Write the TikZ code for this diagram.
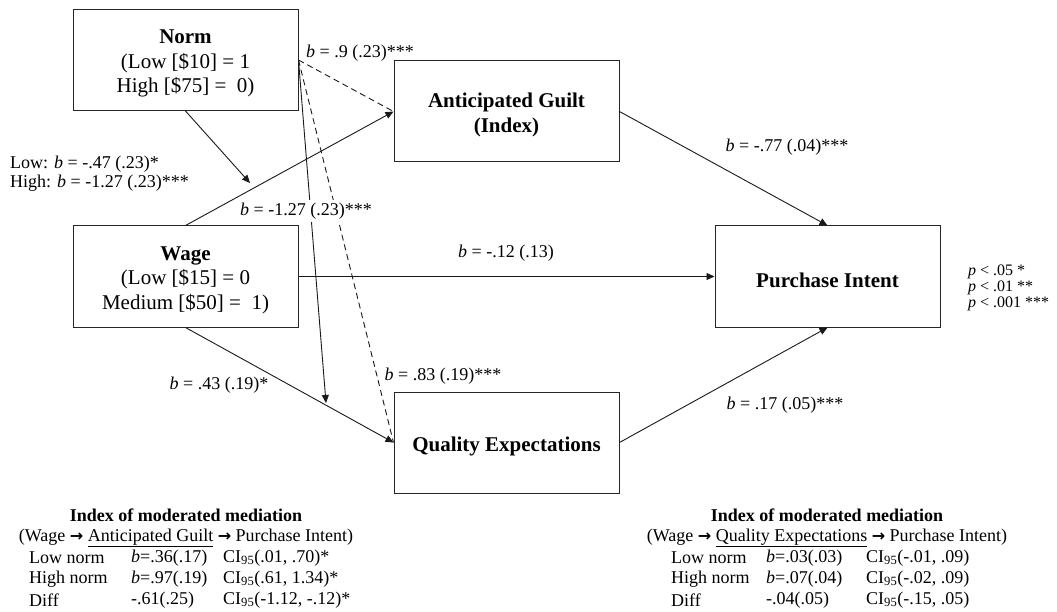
\documentclass[tikz,border=0pt]{standalone}
\usepackage{fontspec}
\setmainfont{Liberation Serif}
\newfontfamily\symfont{DejaVu Sans}
\usetikzlibrary{arrows.meta}
\newcommand{\rarr}{{\symfont\bfseries\fontsize{16}{16}\selectfont →}}
\tikzset{
  box/.style={draw=black!85, line width=1pt, minimum width=225pt, minimum height=101pt,
    inner sep=0pt},
  boxtext/.style={inner sep=0pt, align=center, font=\fontsize{21}{24.5}\selectfont, yshift=-3.5pt},
  conn/.style={line width=0.9pt, draw=black!90},
  arr/.style={conn, -{Triangle[length=8pt,width=7pt]}},
  dashedconn/.style={conn, dash pattern=on 6pt off 4pt},
  lbl/.style={font=\fontsize{18}{20}\selectfont, inner sep=1pt},
  tblw/.style={font=\fontsize{18}{21}\selectfont, anchor=west, inner sep=0pt},
  tblc/.style={font=\fontsize{18}{21}\selectfont, inner sep=0pt},
  leg/.style={font=\fontsize{16}{16}\selectfont, anchor=west, inner sep=0pt},
}
\begin{document}
\begin{tikzpicture}[x=1pt,y=-1pt]
\useasboundingbox (0,0) rectangle (1057,612);
% boxes
\node[box] (norm) at (185.5,60) {};
\node[box] (ag) at (506.5,111.5) {};
\node[box] (wage) at (185.5,276.5) {};
\node[box] (qe) at (506.5,442.5) {};
\node[box] (pi) at (827.5,276.5) {};
\node[boxtext] (normt) at (norm.center) {\textbf{Norm}\\(Low [\$10] = 1\\High [\$75] = \ 0)};
\node[boxtext] (agt) at (ag.center) {\textbf{Anticipated Guilt}\\\textbf{(Index)}};
\node[boxtext] (waget) at (wage.center) {\textbf{Wage}\\(Low [\$15] = 0\\Medium [\$50] = \ 1)};
\node[boxtext] (qet) at (qe.center) {\textbf{Quality Expectations}};
\node[boxtext] (pit) at (pi.center) {\textbf{Purchase Intent}};
\coordinate (m1) at (250,183);
\coordinate (m2) at (326,403);
% connectors
\draw[arr] (wage.north) -- (ag.west);
\draw[arr] (wage.south) -- (qe.west);
\draw[arr] (wage.east) -- (pi.west);
\draw[arr] (ag.east) -- (pi.north);
\draw[arr] (qe.east) -- (pi.south);
\draw[arr] (norm.south) -- (m1);
\draw[arr] (norm.east) -- (m2);
\draw[dashedconn] (norm.east) -- (ag.west);
\draw[dashedconn] (norm.east) -- (qe.west);
% path labels
\node[lbl] (l1) at (360,53) {\textit{b} = .9 (.23)***};
\node[lbl, anchor=west] (l2) at (9,164) {Low: \textit{b} = -.47 (.23)*};
\node[lbl, anchor=west] (l3) at (9,183) {High: \textit{b} = -1.27 (.23)***};
\node[lbl, fill=white, inner sep=3pt] (l4) at (306,211) {\textit{b} = -1.27 (.23)***};
\node[lbl] (l5) at (506,253) {\textit{b} = -.12 (.13)};
\node[lbl] (l6) at (787,147) {\textit{b} = -.77 (.04)***};
\node[lbl] (l7) at (219,385) {\textit{b} = .43 (.19)*};
\node[lbl] (l8) at (443,376) {\textit{b} = .83 (.19)***};
\node[lbl] (l9) at (785,405) {\textit{b} = .17 (.05)***};
% legend
\node[leg] (p1) at (968,272) {\textit{p} < .05 *};
\node[leg] (p2) at (968,288) {\textit{p} < .01 **};
\node[leg] (p3) at (968,304) {\textit{p} < .001 ***};
% bottom left
\node[tblc] (tL) at (186,515) {\textbf{Index of moderated mediation}};
\node[tblc] (hL) at (186,538) {(Wage \rarr\ \underline{Anticipated Guilt} \rarr\ Purchase Intent)};
\node[tblw] (aL1) at (29,558) {Low norm};
\node[tblw] (bL1) at (131,558) {\textit{b}=.36(.17)};
\node[tblw] (cL1) at (223,558) {CI\textsubscript{95}(.01, .70)*};
\node[tblw] (aL2) at (29,579) {High norm};
\node[tblw] (bL2) at (131,579) {\textit{b}=.97(.19)};
\node[tblw] (cL2) at (223,579) {CI\textsubscript{95}(.61, 1.34)*};
\node[tblw] (aL3) at (29,600) {Diff};
\node[tblw] (bL3) at (131,600) {-.61(.25)};
\node[tblw] (cL3) at (223,600) {CI\textsubscript{95}(-1.12, -.12)*};
% bottom right
\node[tblc] (tR) at (827,515) {\textbf{Index of moderated mediation}};
\node[tblc] (hR) at (827,538) {(Wage \rarr\ \underline{Quality Expectations} \rarr\ Purchase Intent)};
\node[tblw] (aR1) at (671,558) {Low norm};
\node[tblw] (bR1) at (766,558) {\textit{b}=.03(.03)};
\node[tblw] (cR1) at (866,558) {CI\textsubscript{95}(-.01, .09)};
\node[tblw] (aR2) at (671,579) {High norm};
\node[tblw] (bR2) at (766,579) {\textit{b}=.07(.04)};
\node[tblw] (cR2) at (866,579) {CI\textsubscript{95}(-.02, .09)};
\node[tblw] (aR3) at (671,600) {Diff};
\node[tblw] (bR3) at (766,600) {-.04(.05)};
\node[tblw] (cR3) at (866,600) {CI\textsubscript{95}(-.15, .05)};
\end{tikzpicture}
\end{document}
